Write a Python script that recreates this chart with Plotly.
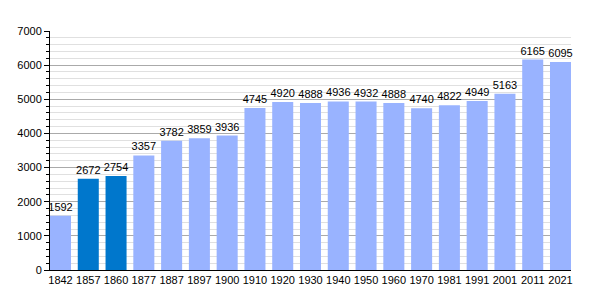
import plotly.graph_objects as go

years = ["1842","1857","1860","1877","1887","1897","1900","1910","1920","1930",
         "1940","1950","1960","1970","1981","1991","2001","2011","2021"]
pop = [1592,2672,2754,3357,3782,3859,3936,4745,4920,4888,
       4936,4932,4888,4740,4822,4949,5163,6165,6095]
dark_years = {"1857","1860"}
colors = ["#0077CC" if y in dark_years else "#99B3FF" for y in years]

fig = go.Figure()
fig.add_trace(go.Bar(
    x=years, y=pop, marker_color=colors, marker_line_width=0,
    text=[str(v) for v in pop], textposition="outside", constraintext="none",
    textfont=dict(family="Liberation Sans, Arial", size=11, color="black"),
    cliponaxis=False,
))
fig.update_layout(
    width=600, height=300,
    margin=dict(l=50, r=29, t=31, b=30),
    plot_bgcolor="white", paper_bgcolor="white",
    bargap=0.243, showlegend=False,
    font=dict(family="Liberation Sans, Arial", size=11, color="black"),
)
fig.update_xaxes(
    type="category", range=[-0.378, 18.378],
    showline=True, linecolor="black", linewidth=1,
    ticks="", showgrid=False, tickfont=dict(size=11),
)
fig.update_yaxes(
    range=[0, 7000], dtick=1000, showline=True, linecolor="black", linewidth=1,
    ticks="outside", ticklen=5, tickcolor="black",
    gridcolor="#AAAAAA", gridwidth=1, zeroline=False,
    minor=dict(dtick=200, showgrid=True, gridcolor="#E0E0E0", ticks="outside",
               ticklen=3, tickcolor="black"),
    tickfont=dict(size=11),
)
fig.write_html("out.html")
